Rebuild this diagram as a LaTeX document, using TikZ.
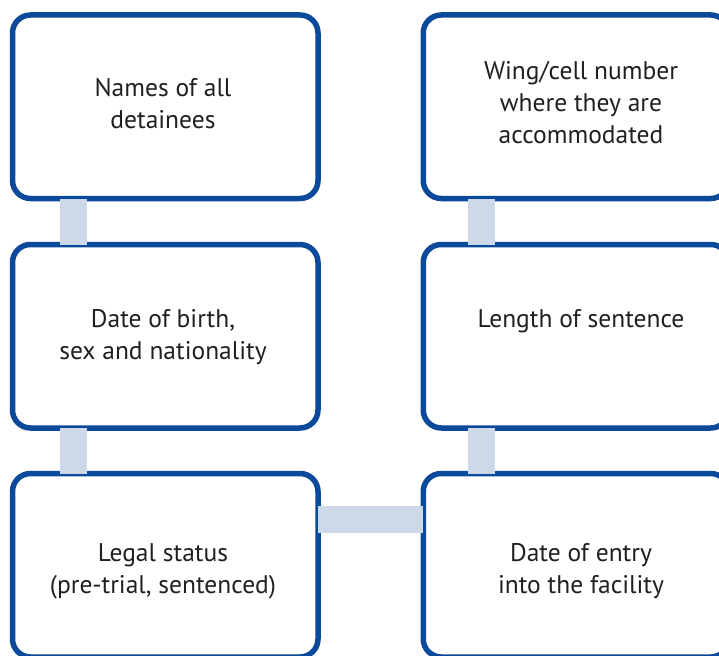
\documentclass[tikz,border=0pt]{standalone}
\usepackage{fontspec}
\setmainfont{PT Sans}
\definecolor{boxblue}{HTML}{0B4A9B}
\definecolor{barblue}{HTML}{CDD9E8}
\definecolor{txtgray}{HTML}{231F20}
\begin{document}
\begin{tikzpicture}[x=1pt,y=-1pt,
  card/.style={draw=boxblue, line width=5.5pt, rounded corners=18pt, fill=white,
    minimum width=305.5pt, minimum height=183.5pt, inner sep=0pt, outer sep=0pt},
  bar/.style={draw=barblue, line width=27pt},
  txt/.style={text=txtgray, align=center, font=\fontsize{25.5}{32}\selectfont, inner sep=0pt}]
\useasboundingbox (0,0) rectangle (719,655);
% boxes
\node[card] (a) at (165.25,106.75) {};
\node[card] (b) at (165.25,336.25) {};
\node[card] (c) at (165.25,565.25) {};
\node[card] (d) at (576,106.75) {};
\node[card] (e) at (576,336.25) {};
\node[card] (f) at (576,565.25) {};
% connectors
\draw[bar] ([xshift=-91.75pt]a.south) -- ([xshift=-91.75pt]b.north);
\draw[bar] ([xshift=-91.75pt]b.south) -- ([xshift=-91.75pt]c.north);
\draw[bar] ([xshift=-94.5pt]d.south) -- ([xshift=-94.5pt]e.north);
\draw[bar] ([xshift=-94.5pt]e.south) -- ([xshift=-94.5pt]f.north);
\draw[bar] ([yshift=45.75pt]c.east) -- ([yshift=45.75pt]f.west);
% texts
\node[txt] (ta) at (163,104) {Names of all\\detainees};
\node[txt] (tb) at (163,337) {Date of birth,\\sex and nationality};
\node[txt] (tc) at (163,571) {Legal status\\(pre-trial, sentenced)};
\node[txt] (td) at (581,103) {Wing/cell number\\where they are\\accommodated};
\node[txt] (te) at (581,321) {Length of sentence};
\node[txt] (tf) at (581,571) {Date of entry\\into the facility};
\end{tikzpicture}
\end{document}
